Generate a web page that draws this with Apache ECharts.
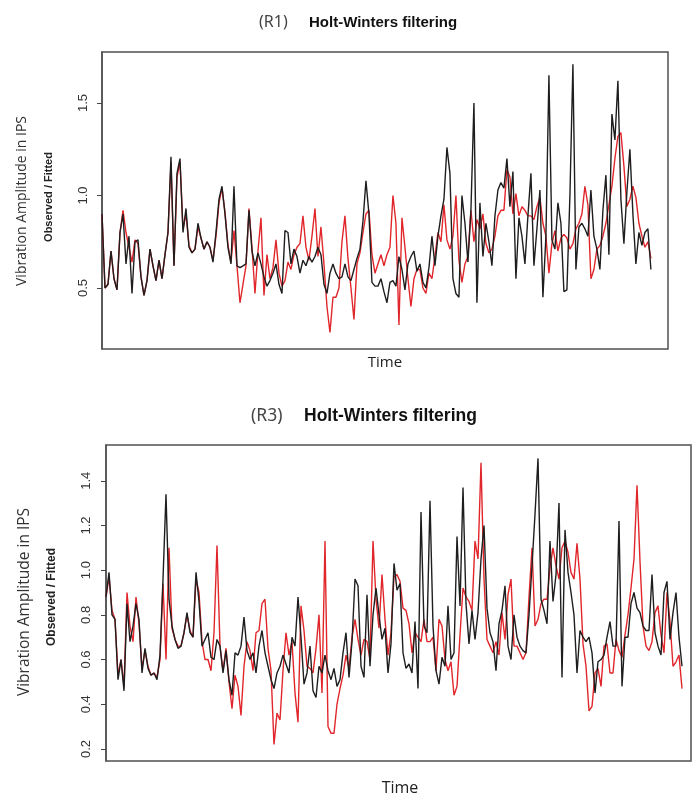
<!DOCTYPE html>
<html>
<head>
<meta charset="utf-8">
<script src="https://cdn.jsdelivr.net/npm/echarts@6/dist/echarts.min.js"></script>
<style>
  html, body { margin: 0; padding: 0; background: #ffffff; }
  #chart { width: 692px; height: 796px; }
</style>
</head>
<body>
<div id="chart"></div>
<script>
// R1: observed vibration amplitude (IPS) and Holt-Winters fitted values
const r1Observed = [
  0.90,0.50,0.52,0.70,0.55,0.49,0.80,0.90,0.63,0.78, 0.47,0.75,0.76,0.56,0.46,0.54,0.71,0.62,0.54,0.65,
  0.55,0.68,0.80,1.21,0.62,1.12,1.20,0.80,0.93,0.72, 0.69,0.71,0.85,0.77,0.71,0.75,0.72,0.64,0.80,0.98,
  1.05,0.90,0.72,0.63,1.05,0.62,0.61,0.62,0.63,0.92, 0.70,0.62,0.69,0.63,0.56,0.51,0.54,0.58,0.63,0.52,
  0.47,0.81,0.80,
  0.63,0.71,0.67,0.58,0.65,0.62,0.67,0.64,0.67,0.72, 0.68,0.52,0.47,0.58,0.63,0.58,0.55,0.56,0.63,0.56,
  0.54,0.60,0.66,0.71,0.86,1.08,0.90,0.53,0.51,0.51, 0.55,0.48,0.42,0.53,0.54,0.51,0.67,0.60,0.49,0.63,
  0.67,0.70,0.59,0.63,0.53,0.50,0.61,0.78,0.62,0.78, 0.89,0.98,1.26,1.12,0.55,0.47,0.45,1.00,0.85,0.64,
  0.92,1.50,0.42,0.96,
  0.67,0.85,0.75,0.62,0.89,1.03,1.07,1.04,1.20,0.94, 1.13,0.55,0.88,0.78,0.63,0.89,1.12,0.62,0.82,1.03,
  0.45,0.78,1.65,0.76,0.71,0.96,0.85,0.48,0.49,1.00, 1.71,0.60,0.83,0.85,0.82,0.78,1.03,0.78,0.71,0.60,
  0.92,1.11,0.68,1.44,1.30,1.62,0.98,0.74,1.02,1.25, 0.90,0.63,0.80,0.73,0.80,0.82,0.60
];
const r1Fitted = [
  0.90,0.50,0.52,0.70,0.55,0.49,0.80,0.92,0.80,0.72, 0.64,0.76,0.74,0.56,0.46,0.54,0.71,0.62,0.54,0.65,
  0.55,0.68,0.80,1.18,0.62,1.10,1.18,0.82,0.90,0.73, 0.69,0.71,0.83,0.77,0.71,0.75,0.72,0.65,0.78,0.96,
  1.04,0.91,0.73,0.64,0.81,0.62,0.42,0.52,0.62,0.93, 0.72,0.47,0.70,0.88,0.46,0.68,0.55,0.61,0.76,0.58,
  0.51,0.54,0.64,
  0.60,0.68,0.72,0.74,0.89,0.72,0.65,0.78,0.93,0.67, 0.83,0.63,0.40,0.26,0.45,0.45,0.50,0.75,0.89,0.66,
  0.50,0.33,0.63,0.69,0.80,0.90,0.92,0.68,0.58,0.63, 0.68,0.62,0.68,0.72,1.00,0.85,0.30,0.88,0.72,0.55,
  0.40,0.55,0.60,0.60,0.50,0.47,0.58,0.55,0.67,0.80, 0.75,0.95,0.76,0.71,0.78,1.00,0.65,0.53,0.63,0.67,
  0.92,0.75,0.87,0.82,
  0.90,0.74,0.69,0.71,0.78,0.89,0.92,0.92,1.14,1.10, 0.90,1.01,0.89,0.94,0.92,0.89,0.89,0.87,0.94,0.99,
  0.85,0.78,0.58,0.74,0.81,0.70,0.77,0.79,0.77,0.71, 0.74,0.82,0.85,0.90,1.05,0.95,0.55,0.60,0.71,0.73,
  0.78,0.85,0.95,1.05,1.20,1.32,1.34,1.16,0.94,0.98, 1.05,0.99,0.85,0.78,0.72,0.75,0.66
];

// R3: observed vibration amplitude (IPS) and Holt-Winters fitted values
const r3Observed = [
  0.88,0.99,0.80,0.78,0.51,0.60,0.46,0.85,0.68,0.75, 0.85,0.78,0.54,0.65,0.56,0.53,0.54,0.51,0.62,0.96,
  1.34,0.87,0.75,0.69,0.65,0.66,0.72,0.81,0.72,0.70, 0.99,0.86,0.66,0.69,0.72,0.61,0.60,0.69,0.66,0.54,
  0.64,0.51,0.44,0.63,0.62,0.66,0.79,0.64,0.60,0.63, 0.54,0.66,0.73,0.63,0.57,0.51,0.47,0.54,0.57,0.62,
  0.58,0.54,
  0.70,0.66,0.88,0.70,0.49,0.54,0.66,0.46,0.43,0.57, 0.54,0.62,0.55,0.51,0.56,0.48,0.51,0.63,0.72,0.52,
  0.68,0.96,0.93,0.57,0.52,0.89,0.57,0.80,0.92,0.80, 0.69,0.74,0.54,0.67,1.03,0.91,0.94,0.63,0.56,0.58,
  0.54,0.77,0.47,1.26,0.75,0.72,1.31,0.75,0.55,0.49, 0.61,0.57,0.84,0.60,0.63,1.15,0.84,1.37,0.85,0.67,
  0.82,0.69,0.81,
  1.05,1.20,0.83,0.72,0.68,0.55,0.76,0.82,0.93,0.66, 0.60,0.80,0.70,0.66,0.64,0.63,0.80,1.02,1.25,1.50,
  0.87,0.82,0.76,1.13,0.86,0.98,1.30,0.52,1.18,0.99, 0.90,0.80,0.54,0.73,0.70,0.68,0.70,0.63,0.45,0.59,
  0.60,0.62,0.70,0.77,0.66,0.66,1.22,0.48,0.70,0.70, 0.85,0.90,0.83,0.81,0.75,0.73,0.73,0.98,0.72,0.66,
  0.62,0.90,0.95,0.69,0.81,0.90,0.70,0.57
];
const r3Fitted = [
  0.88,0.97,0.82,0.78,0.53,0.60,0.48,0.90,0.75,0.68, 0.88,0.76,0.56,0.64,0.57,0.53,0.54,0.52,0.60,0.94,
  0.60,1.10,0.74,0.69,0.66,0.66,0.72,0.80,0.73,0.70, 0.96,0.90,0.68,0.60,0.60,0.55,0.72,1.11,0.66,0.55,
  0.65,0.50,0.38,0.53,0.48,0.35,0.57,0.68,0.64,0.55, 0.72,0.73,0.85,0.87,0.65,0.55,0.22,0.36,0.33,0.55,
  0.72,0.62,
  0.68,0.45,0.32,0.84,0.73,0.57,0.56,0.54,0.65,0.80, 0.45,1.13,0.30,0.27,0.27,0.40,0.47,0.53,0.62,0.56,
  0.70,0.78,0.69,0.62,0.69,0.68,0.60,1.13,0.87,0.74, 0.98,0.78,0.62,0.72,0.97,0.98,0.95,0.83,0.82,0.76,
  0.63,0.72,0.70,0.68,0.78,0.68,0.68,0.70,0.55,0.78, 0.75,0.60,0.55,0.59,0.44,0.48,0.71,0.92,0.88,0.86,
  0.82,1.13,1.05,
  1.48,0.96,0.69,0.66,0.63,0.68,0.62,0.81,0.69,0.89, 0.96,0.66,0.66,0.63,0.60,0.63,0.88,1.10,0.75,0.78,
  0.85,0.87,0.87,1.01,1.10,1.02,0.96,1.10,1.13,1.08, 0.99,0.96,1.12,0.96,0.67,0.57,0.37,0.39,0.54,0.56,
  0.48,0.66,0.67,0.54,0.54,0.69,0.64,0.61,0.71,0.80, 0.92,1.05,1.38,1.04,0.75,0.66,0.64,0.68,0.81,0.84,
  0.71,0.63,0.90,0.77,0.57,0.59,0.62,0.47
];

// Tick values shown on the vertical axes
const r1Ticks = [0.5, 1.0, 1.5];
const r3Ticks = [0.2, 0.4, 0.6, 0.8, 1.0, 1.2, 1.4];

const toPairs = arr => arr.map((v, i) => [i, v]);

const OBS_COLOR = '#1e1e1e';
const FIT_COLOR = '#e1262b';
const BOX_COLOR = '#505050';

function yAxisFor(gridIndex, min, max, ticks, margin) {
  return {
    gridIndex, type: 'value', min, max,
    axisLine: { show: true, lineStyle: { color: BOX_COLOR, width: 1.5 } },
    splitLine: { show: false },
    axisTick: { show: true, customValues: ticks, length: 5, lineStyle: { color: '#444', width: 1 } },
    axisLabel: {
      show: true, customValues: ticks, rotate: 90, margin,
      formatter: v => Number(v).toFixed(1),
      fontFamily: 'Liberation Sans', fontSize: 13, color: '#333'
    }
  };
}
function xAxisFor(gridIndex, max) {
  return {
    gridIndex, type: 'value', min: 0, max,
    axisLine: { show: false }, axisTick: { show: false },
    axisLabel: { show: false }, splitLine: { show: false }
  };
}
function lineSeries(name, data, axisIndex, color, z) {
  return {
    name, type: 'line', data: toPairs(data),
    xAxisIndex: axisIndex, yAxisIndex: axisIndex,
    showSymbol: false, symbol: 'none', smooth: false, z,
    lineStyle: { color, width: 1.4 },
    emphasis: { disabled: true }
  };
}
function vText(text, x, y, font, fill) {
  return { type: 'text', x, y, rotation: Math.PI / 2,
    style: { text, font, fill, align: 'center', verticalAlign: 'middle' } };
}
function hText(text, x, y, font, fill, align) {
  return { type: 'text', x, y,
    style: { text, font, fill, align: align || 'left', verticalAlign: 'middle' } };
}

const chart = echarts.init(document.getElementById('chart'), null, { renderer: 'canvas' });
chart.setOption({
  animation: false,
  backgroundColor: '#ffffff',
  grid: [
    { left: 102, top: 52, width: 566, height: 297, show: true, borderColor: BOX_COLOR, borderWidth: 1.5, containLabel: false },
    { left: 106, top: 445, width: 585, height: 316, show: true, borderColor: BOX_COLOR, borderWidth: 1.5, containLabel: false }
  ],
  xAxis: [ xAxisFor(0, 188.7), xAxisFor(1, 195) ],
  yAxis: [ yAxisFor(0, 0.17, 1.776, r1Ticks, 12), yAxisFor(1, 0.146, 1.56, r3Ticks, 13) ],
  series: [
    lineSeries('R1 fitted', r1Fitted, 0, FIT_COLOR, 2),
    lineSeries('R1 observed', r1Observed, 0, OBS_COLOR, 3),
    lineSeries('R3 fitted', r3Fitted, 1, FIT_COLOR, 2),
    lineSeries('R3 observed', r3Observed, 1, OBS_COLOR, 3)
  ],
  graphic: [
    hText('(R1)', 259, 22.5, 'normal 16px "Noto Sans"', '#444'),
    hText('Holt-Winters filtering', 309, 22.5, 'bold 15px "Liberation Sans"', '#111'),
    vText('Vibration Amplitude in IPS', 22, 201, 'normal 14px "Open Sans"', '#333'),
    vText('Observed / Fitted', 49, 197, 'bold 11px "Liberation Sans"', '#222'),
    hText('Time', 385, 363, 'normal 15px "Open Sans"', '#222', 'center'),

    hText('(R3)', 251, 416.5, 'normal 17.5px "Noto Sans"', '#444'),
    hText('Holt-Winters filtering', 304, 416.5, 'bold 17.5px "Liberation Sans"', '#111'),
    vText('Vibration Amplitude in IPS', 25, 602, 'normal 15.5px "Open Sans"', '#333'),
    vText('Observed / Fitted', 52, 597, 'bold 12px "Liberation Sans"', '#222'),
    hText('Time', 400, 788, 'normal 16px "Open Sans"', '#222', 'center')
  ]
});
</script>
</body>
</html>
